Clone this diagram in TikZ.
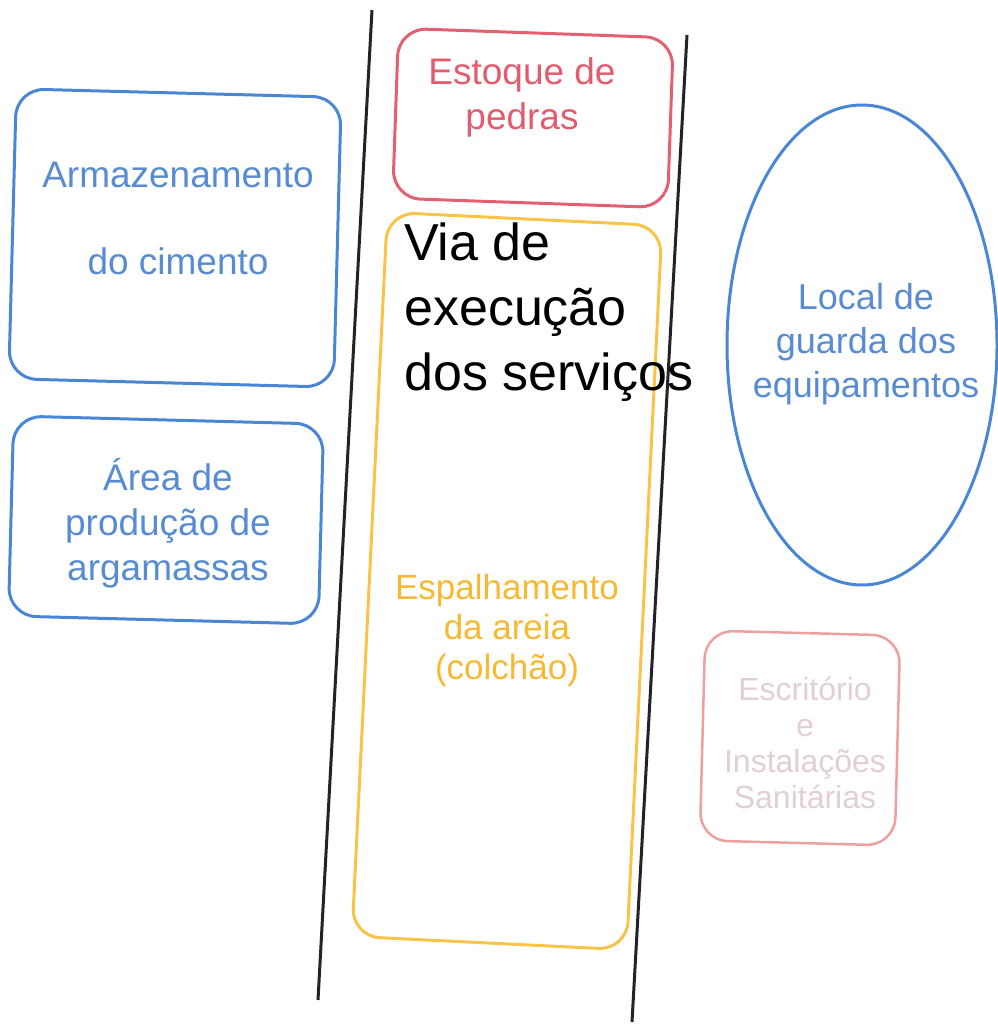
\documentclass[tikz,border=0pt]{standalone}
\usepackage{fontspec}
\setmainfont{Liberation Sans}
\usetikzlibrary{shapes.geometric}
\definecolor{cblue}{RGB}{74,134,214}
\definecolor{cbluetxt}{RGB}{88,140,210}
\definecolor{cred}{RGB}{228,96,112}
\definecolor{credtxt}{RGB}{226,92,110}
\definecolor{cyel}{RGB}{248,196,72}
\definecolor{cyeltxt}{RGB}{247,184,50}
\definecolor{cpink}{RGB}{236,160,160}
\definecolor{cpinktxt}{RGB}{226,208,208}
\definecolor{cline}{RGB}{34,34,40}
\tikzset{
  areabox/.style={draw, rounded corners=28pt, line width=3pt, inner sep=0pt},
  areatxt/.style={align=center, inner sep=0pt},
  divline/.style={draw=cline, line width=3pt},
}
\begin{document}
\begin{tikzpicture}[x=1pt,y=-1pt]
\useasboundingbox (0,0) rectangle (997,1024);
% dividing lines
\coordinate (l1) at (372,10);
\coordinate (l2) at (318,1000);
\coordinate (r1) at (687,35);
\coordinate (r2) at (632,1022);
\draw[divline] (l1) -- (l2);
\draw[divline] (r1) -- (r2);
% boxes
\node[areabox, draw=cyel, minimum width=275pt, minimum height=725pt, rotate=-2.8] (via) at (507,581) {};
\node[areabox, draw=cred, minimum width=275pt, minimum height=170pt, rotate=-2] (estoque) at (533,118) {};
\node[areabox, draw=cblue, minimum width=325pt, minimum height=290pt, rotate=-1.5] (cimento) at (175,238) {};
\node[areabox, draw=cblue, minimum width=310pt, minimum height=200pt, rotate=-1.5] (arg) at (166,520) {};
\node[draw=cblue, ellipse, line width=3pt, minimum width=270pt, minimum height=480pt, inner sep=0pt] (equip) at (862,345) {};
\node[areabox, draw=cpink, line width=2.5pt, minimum width=195pt, minimum height=210pt, rotate=-1.5] (escr) at (800,738) {};
% texts
\node[areatxt, text=credtxt, font=\fontsize{37}{45}\selectfont] (testoque) at (522,97) {Estoque de\\pedras};
\node[areatxt, text=cbluetxt, font=\fontsize{37}{87}\selectfont] (tcimento) at (178,218) {Armazenamento\\do cimento};
\node[areatxt, text=cbluetxt, font=\fontsize{37}{45}\selectfont] (targ) at (168,523) {Área de\\produção de\\argamassas};
\node[areatxt, text=cbluetxt, font=\fontsize{36}{44}\selectfont] (tequip) at (866,344) {Local de\\guarda dos\\equipamentos};
\node[align=left, inner sep=0pt, anchor=west, text=black, font=\fontsize{52}{65}\selectfont] (tvia) at (404,312) {Via de\\execução\\dos serviços};
\node[areatxt, text=cyeltxt, font=\fontsize{35}{40}\selectfont] (tesp) at (507,630) {Espalhamento\\da areia\\(colchão)};
\node[areatxt, text=cpinktxt, font=\fontsize{32}{36}\selectfont] (tescr) at (805,743) {Escritório\\e\\Instalações\\Sanitárias};
\end{tikzpicture}
\end{document}
